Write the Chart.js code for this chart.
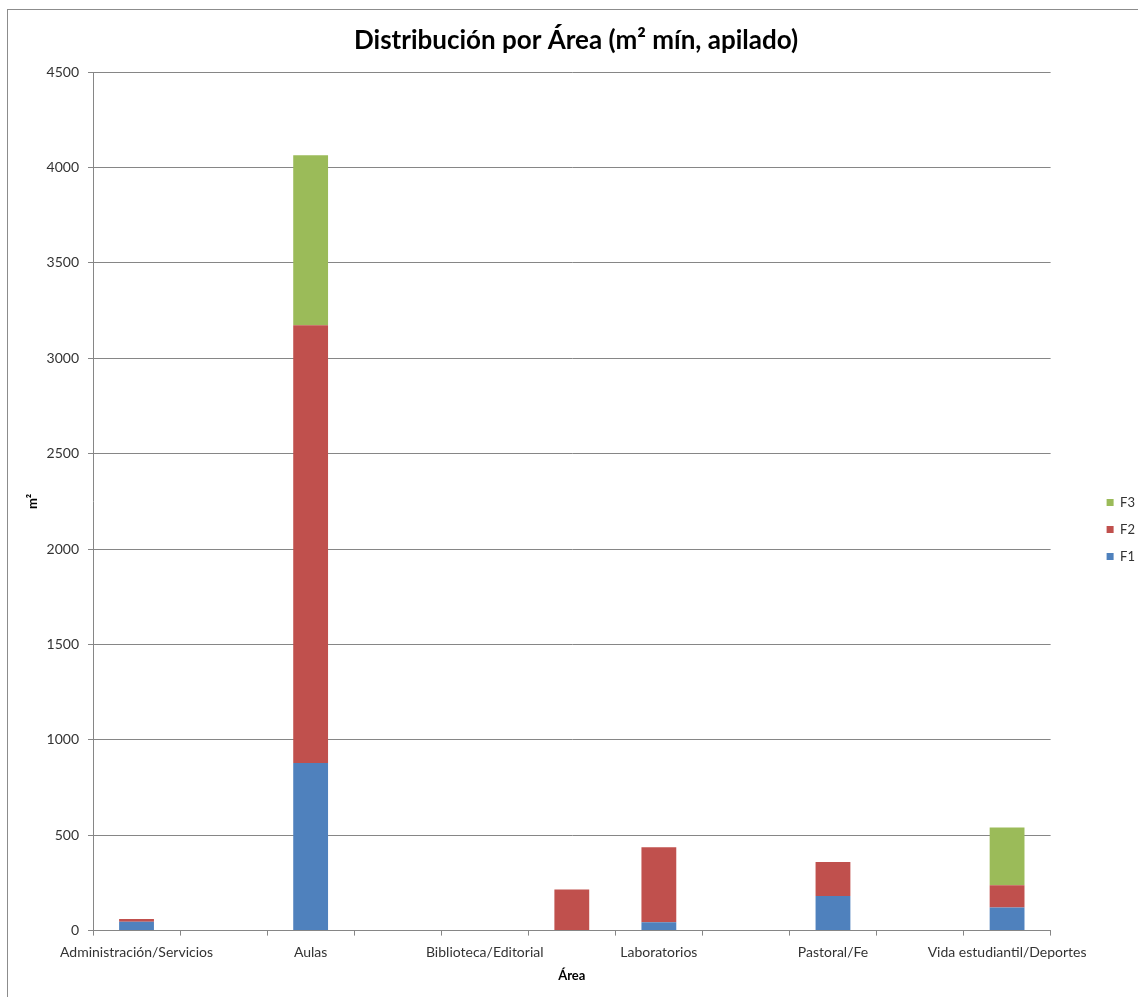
<!DOCTYPE html>
<html lang="es">
<head>
<meta charset="utf-8">
<title>Distribución por Área</title>
<script src="https://cdn.jsdelivr.net/npm/chart.js@4.4.1/dist/chart.umd.min.js"></script>
<style>
    html, body { margin: 0; padding: 0; background: #fff; overflow: hidden; }
    .frame {
        position: absolute; left: 7px; top: 9px;
        width: 1300px; height: 1200px;
        border: 1px solid #8c8c8c;
    }
    #areaChart { position: absolute; left: 0; top: 0; }
</style>
</head>
<body>
<div class="frame"></div>
<canvas id="areaChart" width="1145" height="997"></canvas>
<script>
// categorías (las impares no muestran rótulo en el eje)
const areas = [
    'Administración/Servicios', 'Auditorio', 'Aulas', 'Baños', 'Biblioteca/Editorial',
    'Cafetería', 'Laboratorios', 'Mantenimiento', 'Pastoral/Fe', 'Salud',
    'Vida estudiantil/Deportes'
];
const f1 = [46, 0, 878, 0, 0, 0, 44, 0, 182, 0, 121];
const f2 = [15, 0, 2295, 0, 0, 215, 393, 0, 178, 0, 117];
const f3 = [0, 0, 891, 0, 0, 0, 0, 0, 0, 0, 302];
const yTicks = [0, 500, 1000, 1500, 2000, 2500, 3000, 3500, 4000, 4500];

const font = 'Lato';
const gridColor = '#868686';
const textColor = '#333';

new Chart(document.getElementById('areaChart').getContext('2d'), {
    type: 'bar',
    data: {
        labels: areas,
        datasets: [
            { label: 'F1', data: f1, backgroundColor: '#4F81BD', borderWidth: 0 },
            { label: 'F2', data: f2, backgroundColor: '#C0504D', borderWidth: 0 },
            { label: 'F3', data: f3, backgroundColor: '#9BBB59', borderWidth: 0 }
        ]
    },
    options: {
        responsive: false,
        animation: false,
        devicePixelRatio: 1,
        categoryPercentage: 1,
        barPercentage: 0.4,
        layout: { padding: { left: 7, right: 0, top: 0, bottom: 9 } },
        plugins: {
            title: {
                display: true,
                text: 'Distribución por Área (m² mín, apilado)',
                color: '#000',
                font: { family: font, size: 26, weight: 'bold' },
                padding: { top: 25, bottom: 16 }
            },
            legend: {
                position: 'right',
                reverse: true,
                fullSize: false,
                title: { display: true, text: ' ', font: { size: 10 }, padding: { top: 44, bottom: 0 } },
                labels: {
                    boxWidth: 7,
                    boxHeight: 7,
                    padding: 14,
                    color: textColor,
                    font: { family: font, size: 13 }
                }
            },
            tooltip: { enabled: false }
        },
        scales: {
            x: {
                stacked: true,
                grid: { display: true, offset: true, drawOnChartArea: false, drawTicks: true, tickLength: 5, color: gridColor },
                border: { display: true, color: gridColor },
                ticks: {
                    autoSkip: false,
                    maxRotation: 0,
                    minRotation: 0,
                    padding: 8,
                    color: textColor,
                    font: { family: font, size: 14 },
                    callback: (val, i) => (i % 2 === 0 ? areas[i] : '')
                },
                title: {
                    display: true,
                    text: 'Área',
                    color: '#000',
                    font: { family: font, size: 13, weight: 'bold' },
                    padding: { top: 0, bottom: 4 }
                }
            },
            y: {
                stacked: true,
                min: 0,
                max: yTicks[yTicks.length - 1],
                afterBuildTicks: (s) => { s.ticks = yTicks.map((v) => ({ value: v })); },
                afterFit: (s) => { s.width = 86; },
                grid: { color: gridColor, tickLength: 5 },
                border: { display: true, color: gridColor },
                ticks: {
                    padding: 9,
                    color: textColor,
                    font: { family: font, size: 14 },
                    callback: (v) => String(v)
                },
                title: {
                    display: true,
                    text: 'm²',
                    color: '#000',
                    font: { family: font, size: 13, weight: 'bold' },
                    padding: { top: 18, bottom: 4 }
                }
            },
            // eje vacío a la derecha: deja el hueco entre el área de trazado y la leyenda
            gap: {
                type: 'linear',
                position: 'right',
                display: true,
                grid: { display: false, drawTicks: false },
                border: { display: false },
                ticks: { display: false },
                afterFit: (s) => { s.width = 42; }
            }
        }
    }
});
</script>
</body>
</html>
